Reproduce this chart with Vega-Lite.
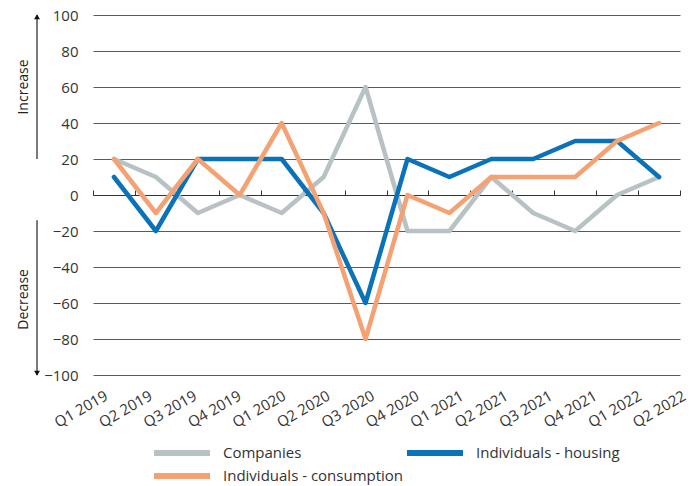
{
  "$schema": "https://vega.github.io/schema/vega-lite/v6.json",
  "padding": {"left": 16, "top": 8, "right": 5, "bottom": 0},
  "background": "white",
  "config": {"view": {"stroke": null}, "font": "Open Sans", "concat": {"spacing": 0}},
  "hconcat": [
    {
      "width": 25,
      "height": 360,
      "layer": [
        {
          "data": {"values": [
            {"part": "arrow", "y1": 100, "y2": 20},
            {"part": "arrow", "y1": -14, "y2": -100}
          ]},
          "mark": {"type": "rule", "color": "#222", "strokeWidth": 1.2},
          "encoding": {
            "x": {"field": "part", "type": "nominal", "scale": {"type": "point", "domain": ["text", "arrow"], "padding": 0.46}, "axis": null},
            "y": {"field": "y1", "type": "quantitative", "scale": {"domain": [-100, 100]}, "axis": null},
            "y2": {"field": "y2"}
          }
        },
        {
          "data": {"values": [
            {"part": "arrow", "y": 99, "dir": "up"},
            {"part": "arrow", "y": -99, "dir": "down"}
          ]},
          "mark": {"type": "point", "filled": true, "color": "#111", "opacity": 1, "size": 35},
          "encoding": {
            "x": {"field": "part", "type": "nominal", "scale": {"type": "point", "domain": ["text", "arrow"], "padding": 0.46}, "axis": null},
            "y": {"field": "y", "type": "quantitative", "scale": {"domain": [-100, 100]}, "axis": null},
            "shape": {"field": "dir", "type": "nominal", "scale": {"domain": ["up", "down"], "range": ["triangle-up", "triangle-down"]}, "legend": null}
          }
        },
        {
          "data": {"values": [
            {"part": "text", "y": 60, "label": "Increase"},
            {"part": "text", "y": -58, "label": "Decrease"}
          ]},
          "mark": {"type": "text", "angle": 270, "fontSize": 14, "color": "#222", "align": "center", "baseline": "middle"},
          "encoding": {
            "x": {"field": "part", "type": "nominal", "scale": {"type": "point", "domain": ["text", "arrow"], "padding": 0.46}, "axis": null},
            "y": {"field": "y", "type": "quantitative", "scale": {"domain": [-100, 100]}, "axis": null},
            "text": {"field": "label"}
          }
        }
      ]
    },
    {
      "width": 587,
      "height": 360,
      "data": {"values": [
        {"quarter": "Q1 2019", "series": "Companies", "value": 20},
        {"quarter": "Q2 2019", "series": "Companies", "value": 10},
        {"quarter": "Q3 2019", "series": "Companies", "value": -10},
        {"quarter": "Q4 2019", "series": "Companies", "value": 0},
        {"quarter": "Q1 2020", "series": "Companies", "value": -10},
        {"quarter": "Q2 2020", "series": "Companies", "value": 10},
        {"quarter": "Q3 2020", "series": "Companies", "value": 60},
        {"quarter": "Q4 2020", "series": "Companies", "value": -20},
        {"quarter": "Q1 2021", "series": "Companies", "value": -20},
        {"quarter": "Q2 2021", "series": "Companies", "value": 10},
        {"quarter": "Q3 2021", "series": "Companies", "value": -10},
        {"quarter": "Q4 2021", "series": "Companies", "value": -20},
        {"quarter": "Q1 2022", "series": "Companies", "value": 0},
        {"quarter": "Q2 2022", "series": "Companies", "value": 10},
        {"quarter": "Q1 2019", "series": "Individuals - housing", "value": 10},
        {"quarter": "Q2 2019", "series": "Individuals - housing", "value": -20},
        {"quarter": "Q3 2019", "series": "Individuals - housing", "value": 20},
        {"quarter": "Q4 2019", "series": "Individuals - housing", "value": 20},
        {"quarter": "Q1 2020", "series": "Individuals - housing", "value": 20},
        {"quarter": "Q2 2020", "series": "Individuals - housing", "value": -10},
        {"quarter": "Q3 2020", "series": "Individuals - housing", "value": -60},
        {"quarter": "Q4 2020", "series": "Individuals - housing", "value": 20},
        {"quarter": "Q1 2021", "series": "Individuals - housing", "value": 10},
        {"quarter": "Q2 2021", "series": "Individuals - housing", "value": 20},
        {"quarter": "Q3 2021", "series": "Individuals - housing", "value": 20},
        {"quarter": "Q4 2021", "series": "Individuals - housing", "value": 30},
        {"quarter": "Q1 2022", "series": "Individuals - housing", "value": 30},
        {"quarter": "Q2 2022", "series": "Individuals - housing", "value": 10},
        {"quarter": "Q1 2019", "series": "Individuals - consumption", "value": 20},
        {"quarter": "Q2 2019", "series": "Individuals - consumption", "value": -10},
        {"quarter": "Q3 2019", "series": "Individuals - consumption", "value": 20},
        {"quarter": "Q4 2019", "series": "Individuals - consumption", "value": 0},
        {"quarter": "Q1 2020", "series": "Individuals - consumption", "value": 40},
        {"quarter": "Q2 2020", "series": "Individuals - consumption", "value": -10},
        {"quarter": "Q3 2020", "series": "Individuals - consumption", "value": -80},
        {"quarter": "Q4 2020", "series": "Individuals - consumption", "value": 0},
        {"quarter": "Q1 2021", "series": "Individuals - consumption", "value": -10},
        {"quarter": "Q2 2021", "series": "Individuals - consumption", "value": 10},
        {"quarter": "Q3 2021", "series": "Individuals - consumption", "value": 10},
        {"quarter": "Q4 2021", "series": "Individuals - consumption", "value": 10},
        {"quarter": "Q1 2022", "series": "Individuals - consumption", "value": 30},
        {"quarter": "Q2 2022", "series": "Individuals - consumption", "value": 40}
      ]},
      "encoding": {
        "y": {
          "field": "value", "type": "quantitative",
          "scale": {"domain": [-100, 100]},
          "axis": {"values": [-100, -80, -60, -40, -20, 0, 20, 40, 60, 80, 100], "grid": true, "gridColor": "#5a5a5a", "gridWidth": 1, "domain": false, "ticks": false, "labelFontSize": 15, "labelColor": "#333", "labelPadding": 15, "title": null}
        },
        "color": {
          "field": "series", "type": "nominal",
          "scale": {"domain": ["Companies", "Individuals - housing", "Individuals - consumption"], "range": ["#b8c2c4", "#0a72b8", "#f4a273"]},
          "legend": {"title": null, "orient": "none", "legendX": 133, "legendY": 427, "direction": "horizontal", "columns": 2, "symbolType": "M-1,0H6", "symbolSize": 256, "symbolStrokeWidth": 6, "labelFontSize": 15, "labelColor": "#333", "labelOffset": 50, "labelLimit": 400, "columnPadding": -12, "rowPadding": -3}
        }
      },
      "layer": [
        {
          "transform": [{"filter": "datum.series === 'Companies'"}],
          "mark": {"type": "line", "strokeWidth": 4.5, "strokeCap": "round", "strokeJoin": "round"},
          "encoding": {
            "x": {"field": "quarter", "type": "ordinal", "sort": null,
              "scale": {"type": "band", "paddingInner": 0, "paddingOuter": 0},
              "axis": {"labelAngle": -30, "labelFontSize": 15, "labelColor": "#333", "domain": false, "ticks": false, "grid": false, "title": null, "labelPadding": 13, "labelOffset": {"expr": "-11 + 33 * datum.index"}, "labelOverlap": false}}
          }
        },
        {
          "transform": [{"filter": "datum.series === 'Individuals - housing'"}],
          "mark": {"type": "line", "strokeWidth": 4.5, "strokeCap": "round", "strokeJoin": "round"},
          "encoding": {
            "x": {"field": "quarter", "type": "ordinal", "sort": null,
              "scale": {"type": "band", "paddingInner": 0, "paddingOuter": 0},
              "axis": {"offset": -180, "labels": false, "grid": false, "domain": true, "domainColor": "#333", "domainWidth": 1, "ticks": true, "tickSize": 5, "tickColor": "#333", "tickWidth": 1, "tickBand": "extent", "title": null}}
          }
        },
        {
          "transform": [{"filter": "datum.series === 'Individuals - consumption'"}],
          "mark": {"type": "line", "strokeWidth": 4.5, "strokeCap": "round", "strokeJoin": "round"},
          "encoding": {
            "x": {"field": "quarter", "type": "ordinal", "sort": null,
              "scale": {"type": "band", "paddingInner": 0, "paddingOuter": 0},
              "axis": null}
          }
        }
      ],
      "resolve": {"axis": {"x": "independent"}}
    }
  ]
}
